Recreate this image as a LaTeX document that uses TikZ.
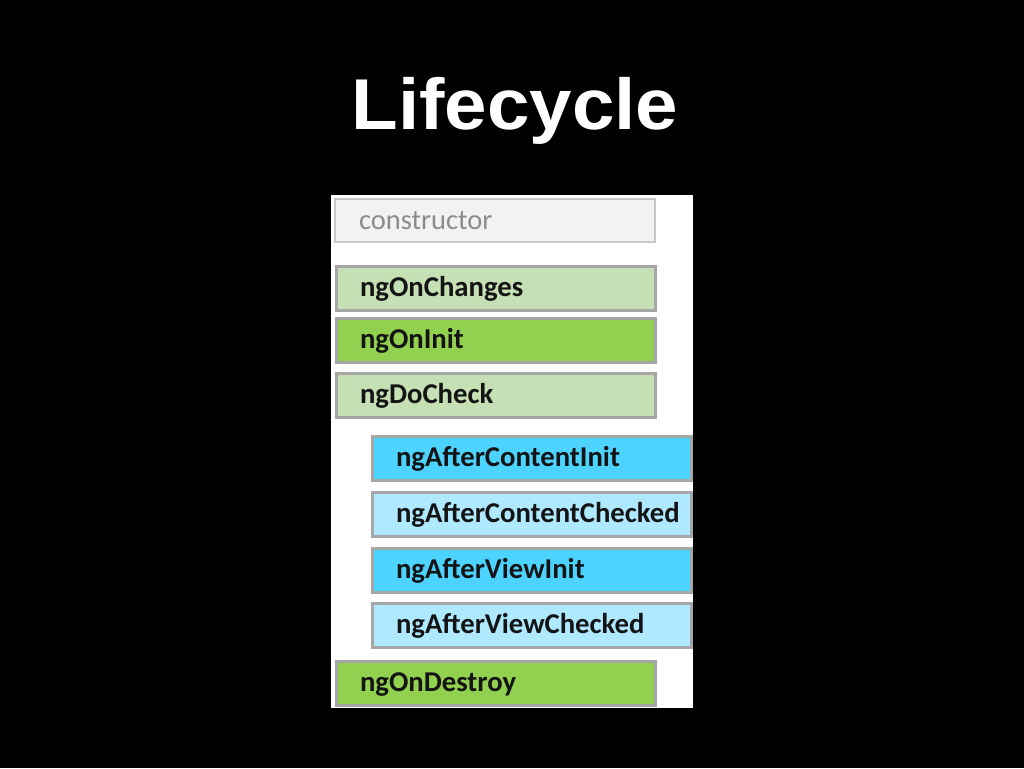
\documentclass[tikz,border=0pt]{standalone}
\usepackage{fontspec}
\setmainfont{Carlito}
\newfontfamily\titlefont{Liberation Sans}
\definecolor{lgreen}{HTML}{C5E0B4}
\definecolor{dgreen}{HTML}{92D050}
\definecolor{dblue}{HTML}{4DD3FF}
\definecolor{lblue}{HTML}{AEE9FF}
\definecolor{bordergray}{HTML}{A6A6A6}
\definecolor{cgray}{HTML}{F2F2F2}
\definecolor{cborder}{HTML}{C8C8C8}
\definecolor{ctext}{HTML}{8C8C8C}
\definecolor{btext}{HTML}{141414}
\begin{document}
\begin{tikzpicture}[x=1pt,y=-1pt,
  hook/.style={draw=bordergray, line width=3pt, rectangle, anchor=north west,
    inner xsep=0pt, inner ysep=0pt, text height=20pt, text depth=3pt,
    align=left, font=\fontsize{28.7}{30}\selectfont\bfseries, text=btext},
  wide/.style={hook, text width=319pt, minimum height=44pt,
    execute at begin node={\hspace*{24pt}}},
  inner/.style={hook, text width=319pt, minimum height=44pt,
    execute at begin node={\hspace*{24pt}}},
  ctor/.style={draw=cborder, line width=2pt, rectangle, anchor=north west, fill=cgray,
    inner xsep=0pt, inner ysep=0pt, text height=20pt, text depth=3pt,
    align=left, font=\fontsize{28.5}{30}\selectfont, text=ctext,
    text width=320pt, minimum height=43pt, execute at begin node={\hspace*{24pt}}}
]
\useasboundingbox (0,0) rectangle (1024,768);
\fill[black] (0,0) rectangle (1024,768);
\node[font=\titlefont\bfseries\fontsize{72}{80}\selectfont, text=white, xscale=1.06,
  anchor=base, inner sep=0pt] (title) at (515,129) {Lifecycle};
\fill[white] (331,195) rectangle (693,708);
\node[ctor] (ctor) at (334,198) {constructor};
\node[wide, fill=lgreen] (onchanges) at (334.5,264.5) {ngOnChanges};
\node[wide, fill=dgreen] (oninit) at (334.5,316.5) {ngOnInit};
\node[wide, fill=lgreen] (docheck) at (334.5,371.5) {ngDoCheck};
\node[inner, fill=dblue] (aci) at (370.5,434.5) {ngAfterContentInit};
\node[inner, fill=lblue] (acc) at (370.5,490.5) {ngAfterContentChecked};
\node[inner, fill=dblue] (avi) at (370.5,546.5) {ngAfterViewInit};
\node[inner, fill=lblue] (avc) at (370.5,601.5) {ngAfterViewChecked};
\node[wide, fill=dgreen] (ondestroy) at (334.5,659.5) {ngOnDestroy};
\end{tikzpicture}
\end{document}
